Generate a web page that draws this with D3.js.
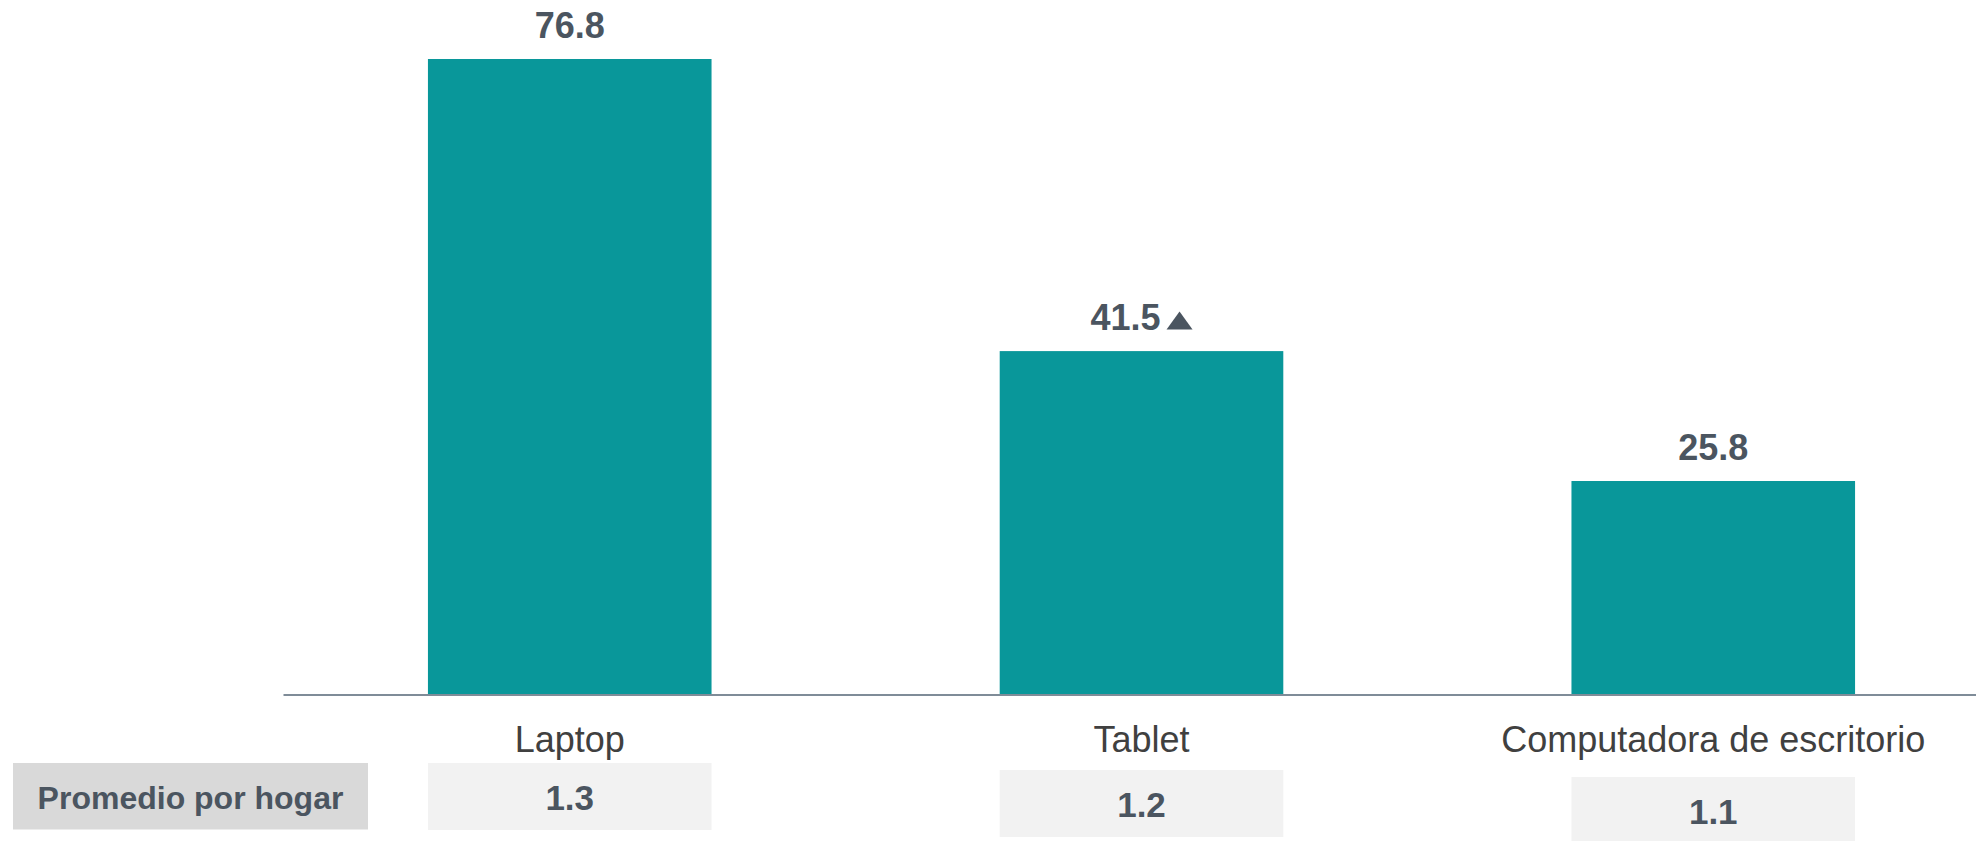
<!DOCTYPE html>
<html>
<head>
<meta charset="utf-8">
<script src="https://cdn.jsdelivr.net/npm/d3@7"></script>
<style>
  html, body { margin: 0; padding: 0; background: #ffffff; }
  svg { display: block; font-family: "Liberation Sans", Arial, sans-serif; }
</style>
</head>
<body>
<svg id="chart" width="1976" height="841"></svg>
<script>
const categories = ["Laptop", "Tablet", "Computadora de escritorio"];
const values = [76.8, 41.5, 25.8];
const markers = ["", "up", ""];
const averages = [1.3, 1.2, 1.1];
const averageTitle = "Promedio por hogar";

const svg = d3.select("#chart");
const W = 1976, H = 841;
const baseY = 694.5;

const x = d3.scaleBand()
  .domain(categories)
  .range([285, 1998])
  .paddingInner(0.504)
  .paddingOuter(0.25);

const y = d3.scaleLinear()
  .domain([0, 76.8])
  .range([baseY, 59]);

const fmt = d3.format(".1f");

// bars
svg.append("g").selectAll("rect")
  .data(categories)
  .join("rect")
  .attr("x", d => x(d))
  .attr("width", x.bandwidth())
  .attr("y", (d, i) => y(values[i]))
  .attr("height", (d, i) => baseY - y(values[i]))
  .attr("fill", "#09979a");

// baseline axis
const axis = svg.append("g")
  .attr("transform", `translate(0,${baseY})`)
  .call(d3.axisBottom(d3.scaleLinear().range([283, W])).ticks(0).tickSizeOuter(0));
axis.select(".domain").attr("stroke", "#7f8c98").attr("stroke-width", 2);
axis.selectAll(".tick").remove();

// value labels
const vl = svg.append("g").selectAll("g")
  .data(categories)
  .join("g");
vl.each(function(d, i) {
  const g = d3.select(this);
  const t = g.append("text")
    .attr("y", y(values[i]) - 21.5)
    .attr("font-size", 36)
    .attr("font-weight", "bold")
    .attr("fill", "#4b5560")
    .text(fmt(values[i]));
  const tw = t.node().getComputedTextLength();
  const triW = markers[i] === "up" ? 26 : 0;
  const gap = markers[i] === "up" ? 6 : 0;
  const total = tw + gap + triW;
  const cx = x(d) + x.bandwidth() / 2;
  const left = cx - total / 2;
  t.attr("x", left);
  if (markers[i] === "up") {
    const bx = left + tw + gap;
    const by = y(values[i]) - 21.5;
    g.append("path")
      .attr("d", `M${bx},${by} L${bx + triW},${by} L${bx + triW / 2},${by - 18} Z`)
      .attr("fill", "#4b5560");
  }
});

// category labels
svg.append("g").selectAll("text")
  .data(categories)
  .join("text")
  .attr("x", d => x(d) + x.bandwidth() / 2)
  .attr("y", 751.5)
  .attr("text-anchor", "middle")
  .attr("font-size", 36)
  .attr("fill", "#404040")
  .text(d => d);

// averages row
const boxH = 67;
const boxTop = i => 763 + i * 7;
svg.append("g").selectAll("rect")
  .data(categories)
  .join("rect")
  .attr("x", d => x(d))
  .attr("width", x.bandwidth())
  .attr("y", (d, i) => boxTop(i))
  .attr("height", boxH)
  .attr("fill", "#f2f2f2");
svg.append("g").selectAll("text")
  .data(categories)
  .join("text")
  .attr("x", d => x(d) + x.bandwidth() / 2)
  .attr("y", (d, i) => boxTop(i) + 46.5)
  .attr("text-anchor", "middle")
  .attr("font-size", 35)
  .attr("font-weight", "bold")
  .attr("fill", "#4b5560")
  .text((d, i) => fmt(averages[i]));

// average title box
svg.append("rect")
  .attr("x", 13).attr("y", 763)
  .attr("width", 355).attr("height", 66.5)
  .attr("fill", "#d9d9d9");
svg.append("text")
  .attr("x", 190.5).attr("y", 809)
  .attr("text-anchor", "middle")
  .attr("font-size", 32)
  .attr("font-weight", "bold")
  .attr("fill", "#4b5560")
  .text(averageTitle);
</script>
</body>
</html>
